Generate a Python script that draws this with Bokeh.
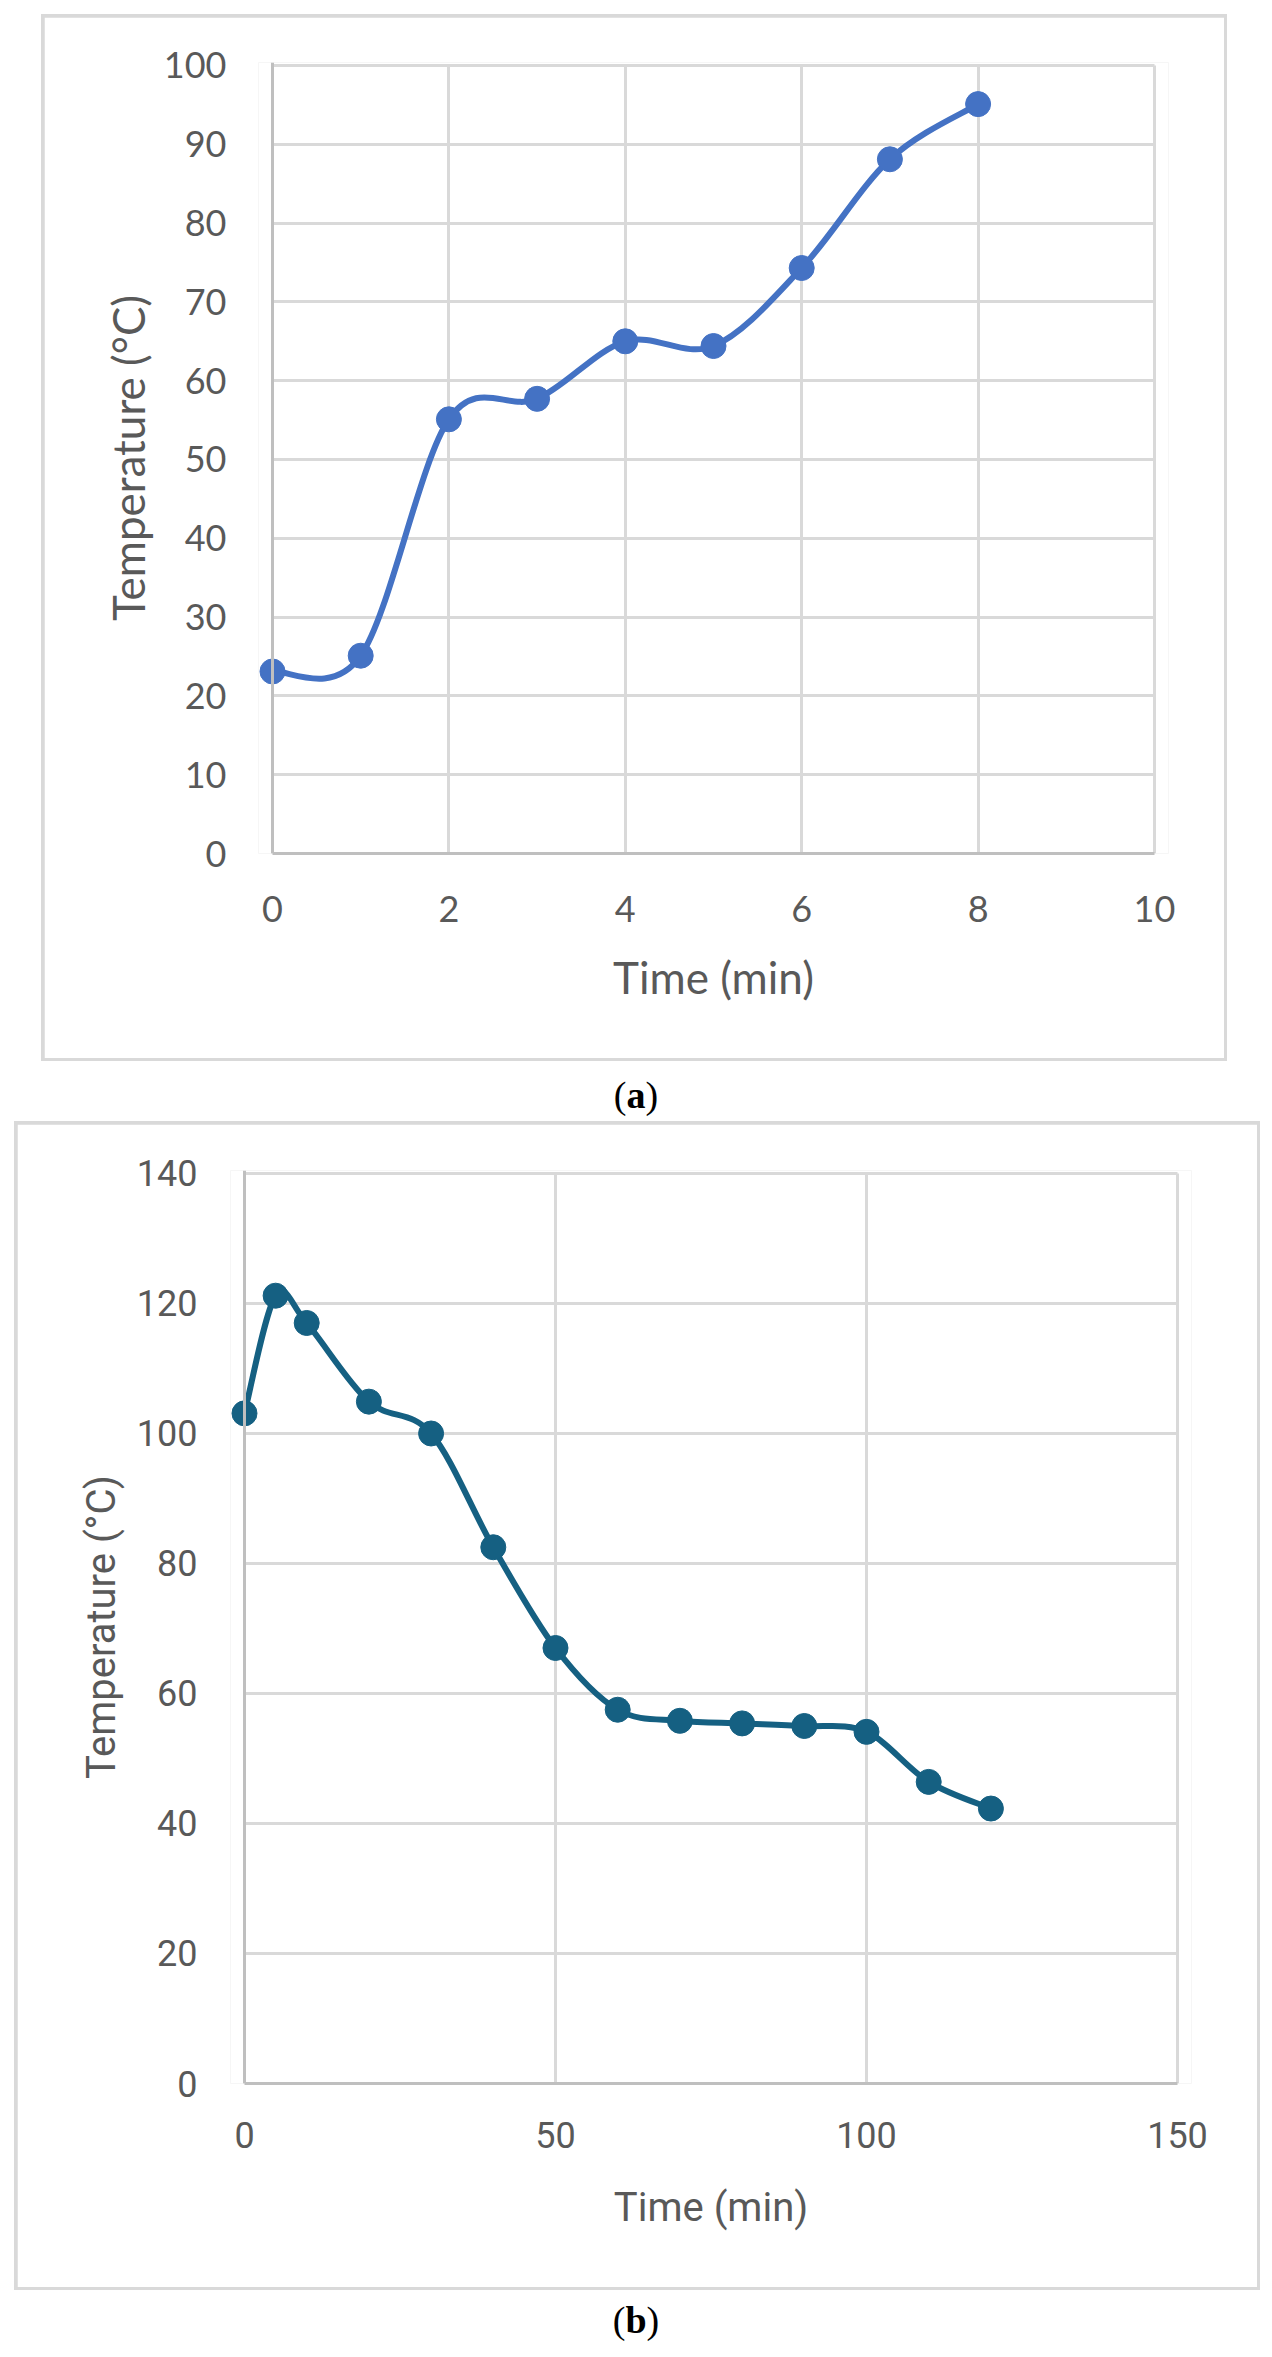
from bokeh.plotting import figure
from bokeh.models import Range1d, FixedTicker, Span, Div, ColumnDataSource
from bokeh.layouts import column
from bokeh.embed import file_html
from bokeh.resources import INLINE

# ---------------- data ----------------
time_a = [0, 1, 2, 3, 4, 5, 6, 7, 8]
temp_a = [23.1, 25.1, 55.1, 57.7, 65.0, 64.4, 74.3, 88.1, 95.1]

time_b = [0, 5, 10, 20, 30, 40, 50, 60, 70, 80, 90, 100, 110, 120]
temp_b = [103.1, 121.2, 117.0, 104.9, 100.0, 82.5, 67.0, 57.5, 55.8, 55.4, 55.0, 54.1, 46.4, 42.3]

xticks_a = [0, 2, 4, 6, 8, 10]
yticks_a = [0, 10, 20, 30, 40, 50, 60, 70, 80, 90, 100]
xticks_b = [0, 50, 100, 150]
yticks_b = [0, 20, 40, 60, 80, 100, 120, 140]

x_title = "Time (min)"
y_title = "Temperature (\u00b0C)"


def smooth_source(xs, ys):
    """Excel-style smoothed line: cubic Bezier control points from neighbours."""
    n = len(xs)
    d = dict(x0=[], y0=[], x1=[], y1=[], cx0=[], cy0=[], cx1=[], cy1=[])
    for i in range(n - 1):
        pxm, pym = (xs[i - 1], ys[i - 1]) if i > 0 else (xs[i], ys[i])
        pxp, pyp = (xs[i + 2], ys[i + 2]) if i + 2 < n else (xs[i + 1], ys[i + 1])
        d["x0"].append(xs[i]); d["y0"].append(ys[i])
        d["x1"].append(xs[i + 1]); d["y1"].append(ys[i + 1])
        d["cx0"].append(xs[i] + (xs[i + 1] - pxm) / 6.0)
        d["cy0"].append(ys[i] + (ys[i + 1] - pym) / 6.0)
        d["cx1"].append(xs[i + 1] - (pxp - xs[i]) / 6.0)
        d["cy1"].append(ys[i + 1] - (pyp - ys[i]) / 6.0)
    return ColumnDataSource(d)


def make_panel(xs, ys, xticks, yticks, xr, yr, color, font, w, h, borders,
               tick_size, title_size, ylab_standoff, xlab_standoff,
               ytitle_standoff, xtitle_standoff):
    p = figure(width=w, height=h, output_backend="svg", toolbar_location=None,
               x_range=Range1d(*xr), y_range=Range1d(*yr),
               min_border_left=borders[0], min_border_right=borders[1],
               min_border_top=borders[2], min_border_bottom=borders[3],
               background_fill_color="white", border_fill_color="white")
    p.outline_line_color = None
    p.margin = (3, 3, 3, 3)

    for ax in (p.xaxis[0], p.yaxis[0]):
        ax.axis_line_color = None
        ax.major_tick_line_color = None
        ax.minor_tick_line_color = None
        ax.major_label_text_font = font
        ax.major_label_text_font_size = tick_size
        ax.major_label_text_color = "#595959"
        ax.axis_label_text_font = font
        ax.axis_label_text_font_size = title_size
        ax.axis_label_text_font_style = "normal"
        ax.axis_label_text_color = "#595959"
    p.xaxis[0].ticker = FixedTicker(ticks=xticks)
    p.yaxis[0].ticker = FixedTicker(ticks=yticks)
    p.xaxis[0].axis_label = x_title
    p.yaxis[0].axis_label = y_title
    p.yaxis[0].major_label_standoff = ylab_standoff
    p.xaxis[0].major_label_standoff = xlab_standoff
    p.yaxis[0].axis_label_standoff = ytitle_standoff
    p.xaxis[0].axis_label_standoff = xtitle_standoff
    # bottom axis line from x=0 to the last tick
    p.xaxis[0].axis_line_color = "#bfbfbf"
    p.xaxis[0].axis_line_width = 3
    p.xaxis[0].bounds = (xticks[0], xticks[-1])

    p.xgrid[0].ticker = FixedTicker(ticks=xticks)
    p.ygrid[0].ticker = FixedTicker(ticks=yticks)
    for g in (p.xgrid[0], p.ygrid[0]):
        g.grid_line_color = "#d9d9d9"
        g.grid_line_width = 3
    if "cross_bounds" in p.ygrid[0].properties():
        p.ygrid[0].cross_bounds = (xticks[0], xticks[-1])
        p.xgrid[0].cross_bounds = (yticks[0], yticks[-1])

    p.add_layout(Span(location=xticks[0], dimension="height",
                      line_color="#bfbfbf", line_width=3))

    src = smooth_source(xs, ys)
    p.bezier(x0="x0", y0="y0", x1="x1", y1="y1", cx0="cx0", cy0="cy0",
             cx1="cx1", cy1="cy1", source=src, line_color=color,
             line_width=6, line_cap="round")
    p.scatter(xs, ys, size=25, fill_color=color, line_color=color)
    return p


pa = make_panel(time_a, temp_a, xticks_a, yticks_a,
                (-0.1587, 10.1587), (0, 100.38), "#4472c4", "Lato",
                1180, 1041, (214, 56, 45, 205),
                "36px", "44px", 26, 36, 7, 26)
box_a = column(pa, margin=(14, 0, 0, 41),
               styles={"background-color": "#d9d9d9"})

cap_a = Div(text="(<b>a</b>)", width=1272, height=50, margin=(10, 0, 0, 0),
            styles={"text-align": "center", "font-family": "Liberation Serif",
                    "font-size": "38px", "line-height": "48px", "color": "black",
                    "width": "1272px"})

pb = make_panel(time_b, temp_b, xticks_b, yticks_b,
                (-2.25, 152.25), (0, 140.46), "#156082", "Roboto",
                1240, 1163, (213, 66, 46, 204),
                "36px", "40px", 27, 32, 9, 33)
box_b = column(pb, margin=(0, 0, 0, 14),
               styles={"background-color": "#d9d9d9"})

cap_b = Div(text="(<b>b</b>)", width=1272, height=60, margin=(0, 0, 0, 0),
            styles={"text-align": "center", "font-family": "Liberation Serif",
                    "font-size": "38px", "line-height": "60px", "color": "black",
                    "width": "1272px"})

layout = column(box_a, cap_a, box_b, cap_b)
open("out.html", "w").write(file_html(layout, INLINE))
